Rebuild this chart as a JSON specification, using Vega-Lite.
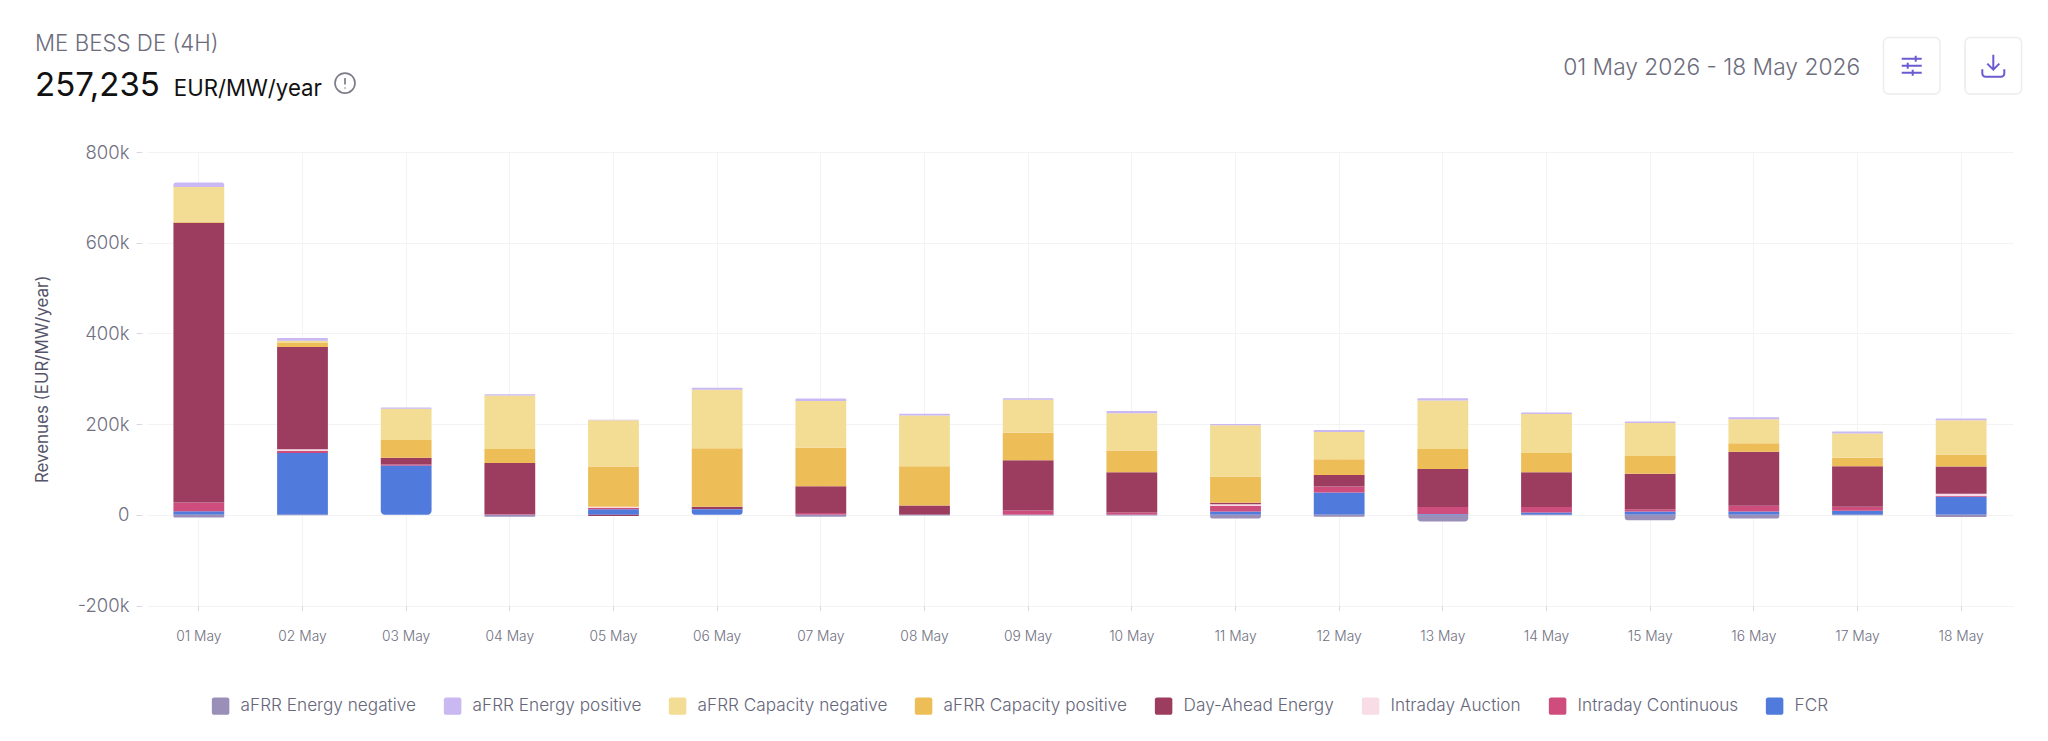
{"$schema":"https://vega.github.io/schema/vega-lite/v6.json","width":1866,"height":453.5,"autosize":"none","padding":{"left":147,"top":152,"right":35,"bottom":135.5},"background":"white","config":{"font":"Inter","view":{"stroke":null}},
"datasets":{"rev":[
{"day":"01 May","series":"FCR","v":8000},{"day":"01 May","series":"Intraday Continuous","v":19000},{"day":"01 May","series":"Day-Ahead Energy","v":617000},{"day":"01 May","series":"aFRR Capacity positive","v":3000},{"day":"01 May","series":"aFRR Capacity negative","v":76000},{"day":"01 May","series":"aFRR Energy positive","v":10000},{"day":"01 May","series":"aFRR Energy negative","v":-6000},
{"day":"02 May","series":"FCR","v":136000},{"day":"02 May","series":"Intraday Continuous","v":5000},{"day":"02 May","series":"Intraday Auction","v":3500},{"day":"02 May","series":"Day-Ahead Energy","v":225300},{"day":"02 May","series":"aFRR Capacity positive","v":8800},{"day":"02 May","series":"aFRR Capacity negative","v":5400},{"day":"02 May","series":"aFRR Energy positive","v":5600},{"day":"02 May","series":"aFRR Energy negative","v":-1000},
{"day":"03 May","series":"FCR","v":108000},{"day":"03 May","series":"Intraday Continuous","v":3000},{"day":"03 May","series":"Day-Ahead Energy","v":14700},{"day":"03 May","series":"aFRR Capacity positive","v":39000},{"day":"03 May","series":"aFRR Capacity negative","v":69000},{"day":"03 May","series":"aFRR Energy positive","v":3000},
{"day":"04 May","series":"Intraday Continuous","v":2000},{"day":"04 May","series":"Day-Ahead Energy","v":112000},{"day":"04 May","series":"aFRR Capacity positive","v":31000},{"day":"04 May","series":"aFRR Capacity negative","v":118000},{"day":"04 May","series":"aFRR Energy positive","v":3000},{"day":"04 May","series":"aFRR Energy negative","v":-4500},
{"day":"05 May","series":"FCR","v":12000},{"day":"05 May","series":"Intraday Continuous","v":3000},{"day":"05 May","series":"Intraday Auction","v":3000},{"day":"05 May","series":"aFRR Capacity positive","v":88500},{"day":"05 May","series":"aFRR Capacity negative","v":102000},{"day":"05 May","series":"aFRR Energy positive","v":1000},{"day":"05 May","series":"Day-Ahead Energy","v":-2500},
{"day":"06 May","series":"FCR","v":12500},{"day":"06 May","series":"Day-Ahead Energy","v":5000},{"day":"06 May","series":"aFRR Capacity positive","v":129400},{"day":"06 May","series":"aFRR Capacity negative","v":128600},{"day":"06 May","series":"aFRR Energy positive","v":4400},
{"day":"07 May","series":"Intraday Continuous","v":3700},{"day":"07 May","series":"Day-Ahead Energy","v":59000},{"day":"07 May","series":"aFRR Capacity positive","v":85000},{"day":"07 May","series":"aFRR Capacity negative","v":103000},{"day":"07 May","series":"aFRR Energy positive","v":6000},{"day":"07 May","series":"aFRR Energy negative","v":-4400},
{"day":"08 May","series":"Day-Ahead Energy","v":20600},{"day":"08 May","series":"aFRR Capacity positive","v":86700},{"day":"08 May","series":"aFRR Capacity negative","v":111700},{"day":"08 May","series":"aFRR Energy positive","v":3700},{"day":"08 May","series":"aFRR Energy negative","v":-1500},
{"day":"09 May","series":"Intraday Continuous","v":9500},{"day":"09 May","series":"Day-Ahead Energy","v":111000},{"day":"09 May","series":"aFRR Capacity positive","v":60300},{"day":"09 May","series":"aFRR Capacity negative","v":72800},{"day":"09 May","series":"aFRR Energy positive","v":3500},{"day":"09 May","series":"aFRR Energy negative","v":-1500},
{"day":"10 May","series":"Intraday Continuous","v":5000},{"day":"10 May","series":"Day-Ahead Energy","v":89000},{"day":"10 May","series":"aFRR Capacity positive","v":48000},{"day":"10 May","series":"aFRR Capacity negative","v":82000},{"day":"10 May","series":"aFRR Energy positive","v":5000},{"day":"10 May","series":"aFRR Energy negative","v":-1500},
{"day":"11 May","series":"FCR","v":7400},{"day":"11 May","series":"Intraday Continuous","v":12500},{"day":"11 May","series":"Intraday Auction","v":3500},{"day":"11 May","series":"Day-Ahead Energy","v":3000},{"day":"11 May","series":"aFRR Capacity positive","v":58000},{"day":"11 May","series":"aFRR Capacity negative","v":113000},{"day":"11 May","series":"aFRR Energy positive","v":3000},{"day":"11 May","series":"aFRR Energy negative","v":-8000},
{"day":"12 May","series":"FCR","v":49000},{"day":"12 May","series":"Intraday Continuous","v":13500},{"day":"12 May","series":"Day-Ahead Energy","v":25000},{"day":"12 May","series":"aFRR Capacity positive","v":35000},{"day":"12 May","series":"aFRR Capacity negative","v":60000},{"day":"12 May","series":"aFRR Energy positive","v":4400},{"day":"12 May","series":"aFRR Energy negative","v":-4400},
{"day":"13 May","series":"FCR","v":1500},{"day":"13 May","series":"Intraday Continuous","v":15500},{"day":"13 May","series":"Day-Ahead Energy","v":84000},{"day":"13 May","series":"aFRR Capacity positive","v":44000},{"day":"13 May","series":"aFRR Capacity negative","v":107000},{"day":"13 May","series":"aFRR Energy positive","v":5000},{"day":"13 May","series":"aFRR Energy negative","v":-14700},
{"day":"14 May","series":"FCR","v":5000},{"day":"14 May","series":"Intraday Continuous","v":12000},{"day":"14 May","series":"Day-Ahead Energy","v":77000},{"day":"14 May","series":"aFRR Capacity positive","v":42000},{"day":"14 May","series":"aFRR Capacity negative","v":86000},{"day":"14 May","series":"aFRR Energy positive","v":3600},{"day":"14 May","series":"aFRR Energy negative","v":-1000},
{"day":"15 May","series":"FCR","v":7400},{"day":"15 May","series":"Intraday Continuous","v":5000},{"day":"15 May","series":"Day-Ahead Energy","v":78000},{"day":"15 May","series":"aFRR Capacity positive","v":39000},{"day":"15 May","series":"aFRR Capacity negative","v":72800},{"day":"15 May","series":"aFRR Energy positive","v":3600},{"day":"15 May","series":"aFRR Energy negative","v":-11800},
{"day":"16 May","series":"FCR","v":7400},{"day":"16 May","series":"Intraday Continuous","v":12400},{"day":"16 May","series":"Day-Ahead Energy","v":119000},{"day":"16 May","series":"aFRR Capacity positive","v":19000},{"day":"16 May","series":"aFRR Capacity negative","v":53000},{"day":"16 May","series":"aFRR Energy positive","v":4400},{"day":"16 May","series":"aFRR Energy negative","v":-8000},
{"day":"17 May","series":"FCR","v":8800},{"day":"17 May","series":"Intraday Continuous","v":8800},{"day":"17 May","series":"Day-Ahead Energy","v":89700},{"day":"17 May","series":"aFRR Capacity positive","v":18400},{"day":"17 May","series":"aFRR Capacity negative","v":53600},{"day":"17 May","series":"aFRR Energy positive","v":4400},{"day":"17 May","series":"aFRR Energy negative","v":-1000},
{"day":"18 May","series":"FCR","v":39700},{"day":"18 May","series":"Intraday Continuous","v":1500},{"day":"18 May","series":"Intraday Auction","v":5000},{"day":"18 May","series":"Day-Ahead Energy","v":60300},{"day":"18 May","series":"aFRR Capacity positive","v":26400},{"day":"18 May","series":"aFRR Capacity negative","v":75700},{"day":"18 May","series":"aFRR Energy positive","v":3700},{"day":"18 May","series":"aFRR Energy negative","v":-5000}
]},
"layer":[
{"data":{"name":"rev"},
"transform":[{"stack":"v","groupby":["day"],"as":["y0","y1"]},{"joinaggregate":[{"op":"max","field":"y1","as":"hi"},{"op":"min","field":"y1","as":"lo"}],"groupby":["day"]}],
"encoding":{
"x":{"field":"day","type":"nominal","sort":null,"scale":{"type":"band","paddingInner":0,"paddingOuter":0,"domain":["01 May","02 May","03 May","04 May","05 May","06 May","07 May","08 May","09 May","10 May","11 May","12 May","13 May","14 May","15 May","16 May","17 May","18 May"]},"axis":{"title":null,"labelAngle":0,"labelFontSize":13.8,"labelFontWeight":300,"labelColor":"#70707f","labelPadding":19,"tickColor":"#d8d8de","tickSize":5,"domain":false,"grid":true,"gridColor":"#f3f3f6"}},
"y":{"field":"y0","type":"quantitative","scale":{"domain":[-200000,800000],"nice":false,"zero":false},"axis":{"title":"Revenues (EUR/MW/year)","titleFontSize":16.9,"titleFontWeight":"normal","titleColor":"#55556a","titlePadding":25.5,"values":[-200000,0,200000,400000,600000,800000],"labelExpr":"datum.value==0?'0':(datum.value<0?'-':'')+format(abs(datum.value)/1000,'d')+'k'","labelFontSize":18.5,"labelFontWeight":300,"labelColor":"#70707f","labelPadding":7,"tickColor":"#d8d8de","tickSize":6,"offset":5,"domain":false,"grid":true,"gridColor":"#f3f3f6"}},
"y2":{"field":"y1"},
"color":{"field":"series","type":"nominal","scale":{"domain":["aFRR Energy negative","aFRR Energy positive","aFRR Capacity negative","aFRR Capacity positive","Day-Ahead Energy","Intraday Auction","Intraday Continuous","FCR"],"range":["#9a8fb8","#c9b8f2","#f3dd94","#edbe58","#9c3d5f","#f8dce6","#cf4d7d","#507adc"]},"legend":{"title":null,"orient":"none","legendX":64.6,"legendY":545,"direction":"horizontal","columns":8,"symbolType":"M-0.75,-1H0.75A0.25,0.25 0 0 1 1,-0.75V0.75A0.25,0.25 0 0 1 0.75,1H-0.75A0.25,0.25 0 0 1 -1,0.75V-0.75A0.25,0.25 0 0 1 -0.75,-1Z","symbolSize":306,"symbolStrokeWidth":0,"labelFontSize":17.2,"labelFontWeight":300,"labelLimit":300,"labelColor":"#66667a","labelOffset":11,"columnPadding":27}}
},
"layer":[
{"transform":[{"filter":"datum.y1<datum.hi && datum.y1>datum.lo"}],"mark":{"type":"bar","width":{"band":0.49}}},
{"transform":[{"filter":"datum.y1==datum.hi"}],"mark":{"type":"bar","width":{"band":0.49},"cornerRadiusTopLeft":4,"cornerRadiusTopRight":4}},
{"transform":[{"filter":"datum.y1==datum.lo"}],"mark":{"type":"bar","width":{"band":0.49},"cornerRadiusBottomLeft":4,"cornerRadiusBottomRight":4}}
]},
{"data":{"values":[{"t":"ME BESS DE (4H)"}]},"mark":{"type":"text","align":"left","baseline":"middle","fontSize":22.3,"fontWeight":300,"color":"#6c6c7c","dx":-163.8},"encoding":{"x":{"datum":"01 May"},"y":{"datum":1039000},"text":{"field":"t"}}},
{"data":{"values":[{"t":"257,235"}]},"mark":{"type":"text","align":"left","baseline":"middle","fontSize":33,"color":"#111111","dx":-163.8},"encoding":{"x":{"datum":"01 May"},"y":{"datum":946000},"text":{"field":"t"}}},
{"data":{"values":[{"t":"EUR/MW/year"}]},"mark":{"type":"text","align":"left","baseline":"middle","fontSize":22.2,"color":"#111111","dx":-25},"encoding":{"x":{"datum":"01 May"},"y":{"datum":940000},"text":{"field":"t"}}},
{"data":{"values":[{"t":"01 May 2026 - 18 May 2026"}]},"mark":{"type":"text","align":"right","baseline":"middle","fontSize":22.8,"fontWeight":300,"color":"#6c6c7c","dx":-101},"encoding":{"x":{"datum":"18 May"},"y":{"datum":986000},"text":{"field":"t"}}},
{"data":{"values":[{"icon":"info"}]},"mark":{"type":"point","filled":false,"stroke":"#45455a","strokeWidth":1.7,"size":400,"shape":"M0,-1A1,1 0 1 0 0,1A1,1 0 1 0 0,-1ZM0,-0.5V0.15M0,0.45V0.55"},"encoding":{"x":{"datum":"02 May","bandPosition":0.91},"y":{"datum":952000}}},
{"data":{"values":[{"icon":"settings"}]},"mark":{"type":"point","filled":false,"opacity":1,"stroke":"#ececf0","strokeWidth":1.5,"size":3192,"shape":"M-0.82,-1H0.82A0.18,0.18 0 0 1 1,-0.82V0.82A0.18,0.18 0 0 1 0.82,1H-0.82A0.18,0.18 0 0 1 -1,0.82V-0.82A0.18,0.18 0 0 1 -0.82,-1Z"},"encoding":{"x":{"datum":"18 May","bandPosition":0.023},"y":{"datum":990000}}},
{"data":{"values":[{"icon":"download"}]},"mark":{"type":"point","filled":false,"opacity":1,"stroke":"#ececf0","strokeWidth":1.5,"size":3192,"shape":"M-0.82,-1H0.82A0.18,0.18 0 0 1 1,-0.82V0.82A0.18,0.18 0 0 1 0.82,1H-0.82A0.18,0.18 0 0 1 -1,0.82V-0.82A0.18,0.18 0 0 1 -0.82,-1Z"},"encoding":{"x":{"datum":"18 May","bandPosition":0.81},"y":{"datum":990000}}},
{"data":{"values":[{"icon":"settings"}]},"mark":{"type":"point","filled":false,"opacity":1,"stroke":"#6b5bd2","strokeWidth":2,"size":400,"shape":"M-1,-0.7H1M0.4,-1V-0.4M-1,0H1M-0.4,-0.3V0.3M-1,0.7H1M0.1,0.4V1"},"encoding":{"x":{"datum":"18 May","bandPosition":0.023},"y":{"datum":990000}}},
{"data":{"values":[{"icon":"download"}]},"mark":{"type":"point","filled":false,"opacity":1,"stroke":"#6b5bd2","strokeWidth":2,"size":484,"shape":"M0,-1V0.35M-0.55,-0.2L0,0.35L0.55,-0.2M-1,0.3V0.7A0.3,0.3 0 0 0 -0.7,1H0.7A0.3,0.3 0 0 0 1,0.7V0.3"},"encoding":{"x":{"datum":"18 May","bandPosition":0.81},"y":{"datum":990000}}}
]}
